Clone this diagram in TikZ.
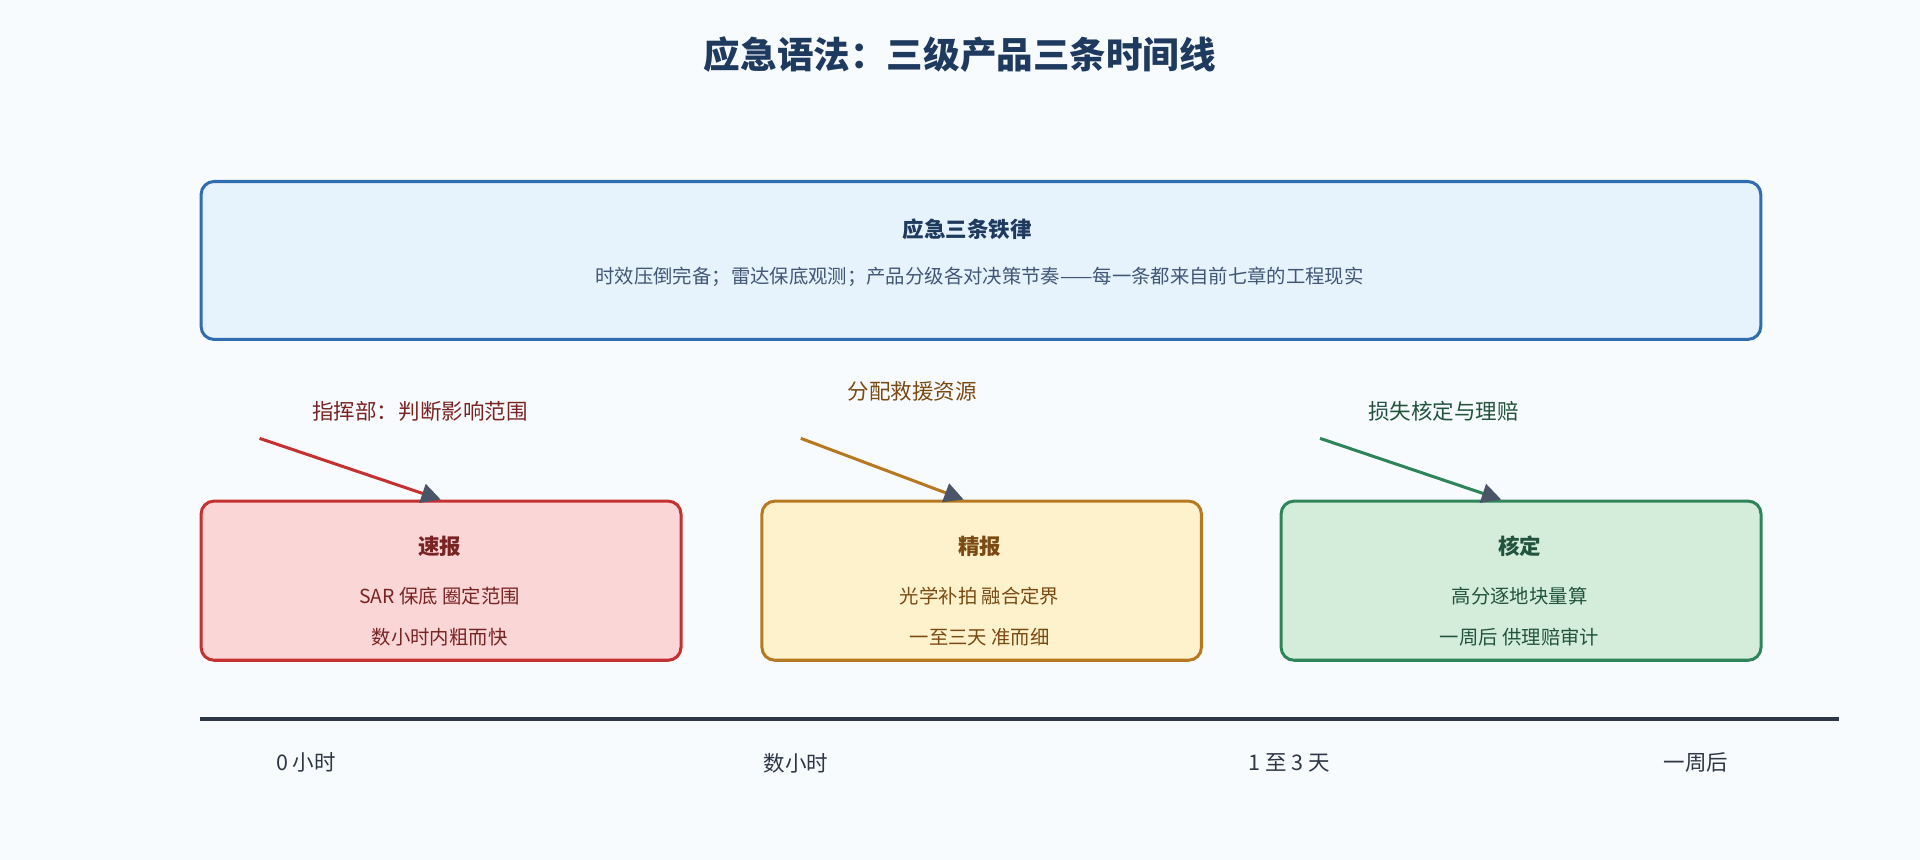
\documentclass[tikz,border=0pt]{standalone}
\usepackage{fontspec}
\setmainfont{Noto Sans CJK SC}
\usetikzlibrary{arrows.meta,positioning}
\definecolor{bgcol}{HTML}{F8FBFE}
\definecolor{navy}{HTML}{1F3A5F}
\definecolor{lawfill}{HTML}{E6F2FC}
\definecolor{lawline}{HTML}{2F6DB0}
\definecolor{redfill}{HTML}{FAD6D7}
\definecolor{redline}{HTML}{C53030}
\definecolor{redtext}{HTML}{7A2323}
\definecolor{orgfill}{HTML}{FEF2CC}
\definecolor{orgline}{HTML}{B7791F}
\definecolor{orgtext}{HTML}{7B4A12}
\definecolor{grnfill}{HTML}{D4EDDA}
\definecolor{grnline}{HTML}{2F855A}
\definecolor{grntext}{HTML}{22543D}
\definecolor{tipgray}{HTML}{4A5568}
\definecolor{axiscol}{HTML}{2D3748}

\tikzset{
  box/.style={draw, line width=1.4pt, rounded corners=6pt, anchor=north west},
  boxtitle/.style={font=\fontsize{10}{12}\selectfont\bfseries},
  boxline/.style={font=\fontsize{9}{11}\selectfont},
  tick/.style={font=\fontsize{10}{12}\selectfont, text=axiscol},
  pointer/.style={line width=1.4pt, -{Triangle[length=9pt,width=9pt,color=tipgray]}},
}

\begin{document}
\begin{tikzpicture}[x=0.02cm,y=-0.02cm]
   \fill[bgcol] (0,0) rectangle (1568,702);
   \node[font=\fontsize{17}{20}\selectfont\bfseries, text=navy] (title) at (784,45) {应急语法：三级产品三条时间线};

   % law box
   \node[box, fill=lawfill, draw=lawline, minimum width=25.48cm, minimum height=2.58cm] (law) at (163,147) {};
   \node[boxtitle, text=navy] (lawhead) at (790,187) {应急三条铁律};
   \node[boxline, text=navy!85] (lawtext) at (800,226) {时效压倒完备；雷达保底观测；产品分级各对决策节奏——每一条都来自前七章的工程现实};

   % product boxes
   \node[box, fill=redfill, draw=redline, minimum width=7.84cm, minimum height=2.6cm] (quick) at (163,408) {};
   \node[box, fill=orgfill, draw=orgline, minimum width=7.18cm, minimum height=2.6cm] (fine) at (621,408) {};
   \node[box, fill=grnfill, draw=grnline, minimum width=7.84cm, minimum height=2.6cm] (check) at (1045,408) {};

   \node[boxtitle, text=redtext] (quickhead) at (359,446) {速报};
   \node[boxline, text=redtext] (quickA) at (359,487) {SAR 保底 圈定范围};
   \node[boxline, text=redtext] (quickB) at (359,520) {数小时内粗而快};
   \node[boxtitle, text=orgtext] (finehead) at (800,446) {精报};
   \node[boxline, text=orgtext] (fineA) at (800,487) {光学补拍 融合定界};
   \node[boxline, text=orgtext] (fineB) at (800,520) {一至三天 准而细};
   \node[boxtitle, text=grntext] (checkhead) at (1241,446) {核定};
   \node[boxline, text=grntext] (checkA) at (1241,487) {高分逐地块量算};
   \node[boxline, text=grntext] (checkB) at (1241,520) {一周后 供理赔审计};

   % users
   \node[tick, text=redtext] (quickuser) at (343,336) {指挥部：判断影响范围};
   \node[tick, text=orgtext] (fineuser) at (745,320) {分配救援资源};
   \node[tick, text=grntext] (checkuser) at (1179,336) {损失核定与理赔};
   \coordinate (quickfrom) at (212,358);
   \coordinate (quickto) at (360,408);
   \coordinate (finefrom) at (654,358);
   \coordinate (fineto) at (787,408);
   \coordinate (checkfrom) at (1078,358);
   \coordinate (checkto) at (1226,408);
   \draw[pointer, redline] (quickfrom) -- (quickto);
   \draw[pointer, orgline] (finefrom) -- (fineto);
   \draw[pointer, grnline] (checkfrom) -- (checkto);

   % time axis
   \coordinate (axisL) at (163,587);
   \coordinate (axisR) at (1502,587);
   \draw[axiscol, line width=1.6pt] (axisL) -- (axisR);
   \node[tick] (t0) at (250,623) {0 小时};
   \node[tick] (t1) at (650,623) {数小时};
   \node[tick] (t2) at (1053,623) {1 至 3 天};
   \node[tick] (t3) at (1385,623) {一周后};
\end{tikzpicture}
\end{document}
